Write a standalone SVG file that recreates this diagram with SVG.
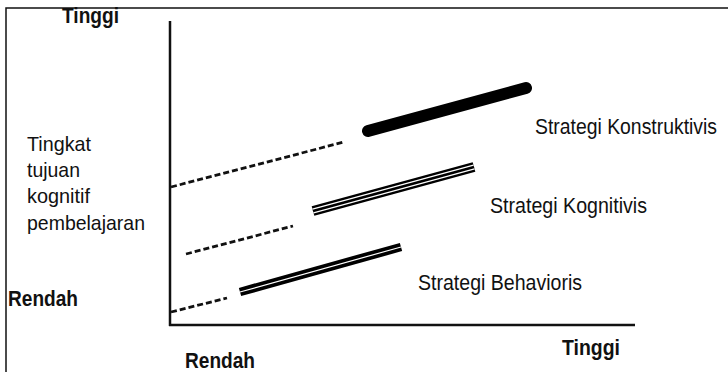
<svg xmlns="http://www.w3.org/2000/svg" width="728" height="372" viewBox="0 0 728 372">
<style>
.lbl{font-family:"Liberation Sans",Arial,sans-serif;font-size:22px;fill:#111}
.side{font-family:"Liberation Sans",Arial,sans-serif;font-size:21px;fill:#111}
.bold{font-family:"Liberation Sans",Arial,sans-serif;font-size:22px;font-weight:bold;fill:#111}
.axis{stroke:#111;stroke-width:2.5;fill:none}
.dash{stroke:#111;stroke-width:2.8;stroke-dasharray:6 3;fill:none}
</style>
<rect width="728" height="372" fill="#fff"/>
<g id="frame">
<path d="M6,372 V8 H728" stroke="#111" stroke-width="1.5" fill="none"/>
</g>
<g id="axes">
<line class="axis" x1="170" y1="21" x2="170" y2="326"/>
<line class="axis" x1="169" y1="325" x2="635" y2="325"/>
</g>
<g id="connectors">
<line class="dash" x1="171" y1="187" x2="344" y2="142"/>
<line class="dash" x1="186" y1="254" x2="293" y2="226"/>
<line class="dash" x1="171" y1="312" x2="227" y2="298"/>
</g>
<g id="konstruktivis">
<line x1="368" y1="131" x2="526" y2="88" stroke="#000" stroke-width="12" stroke-linecap="round"/>
<text class="lbl" x="535" y="134" font-size="20.5" textLength="182" lengthAdjust="spacingAndGlyphs">Strategi Konstruktivis</text>
</g>
<g id="kognitivis">
<line x1="313" y1="211" x2="474" y2="167" stroke="#000" stroke-width="10"/>
<line x1="313" y1="211" x2="474" y2="167" stroke="#fff" stroke-width="5"/>
<line x1="313" y1="211" x2="474" y2="167" stroke="#000" stroke-width="2.6"/>
<text class="lbl" x="490" y="213" textLength="157" lengthAdjust="spacingAndGlyphs">Strategi Kognitivis</text>
</g>
<g id="behavioris">
<line x1="240" y1="292" x2="401" y2="247" stroke="#000" stroke-width="8.5"/>
<line x1="240" y1="292" x2="401" y2="247" stroke="#fff" stroke-width="1.2"/>
<text class="lbl" x="418" y="290" textLength="164" lengthAdjust="spacingAndGlyphs">Strategi Behavioris</text>
</g>
<g id="y-axis-labels">
<text class="bold" x="62" y="23" font-size="20" textLength="57" lengthAdjust="spacingAndGlyphs">Tinggi</text>
<text class="side" x="27" y="151" textLength="64" lengthAdjust="spacingAndGlyphs">Tingkat</text>
<text class="side" x="27" y="177" textLength="53" lengthAdjust="spacingAndGlyphs">tujuan</text>
<text class="side" x="27" y="203" textLength="63" lengthAdjust="spacingAndGlyphs">kognitif</text>
<text class="side" x="27" y="230" textLength="118" lengthAdjust="spacingAndGlyphs">pembelajaran</text>
<text class="bold" x="8" y="306" textLength="70" lengthAdjust="spacingAndGlyphs">Rendah</text>
</g>
<g id="x-axis-labels">
<text class="bold" x="185" y="368" textLength="70" lengthAdjust="spacingAndGlyphs">Rendah</text>
<text class="bold" x="562" y="355" textLength="58" lengthAdjust="spacingAndGlyphs">Tinggi</text>
</g>
</svg>
